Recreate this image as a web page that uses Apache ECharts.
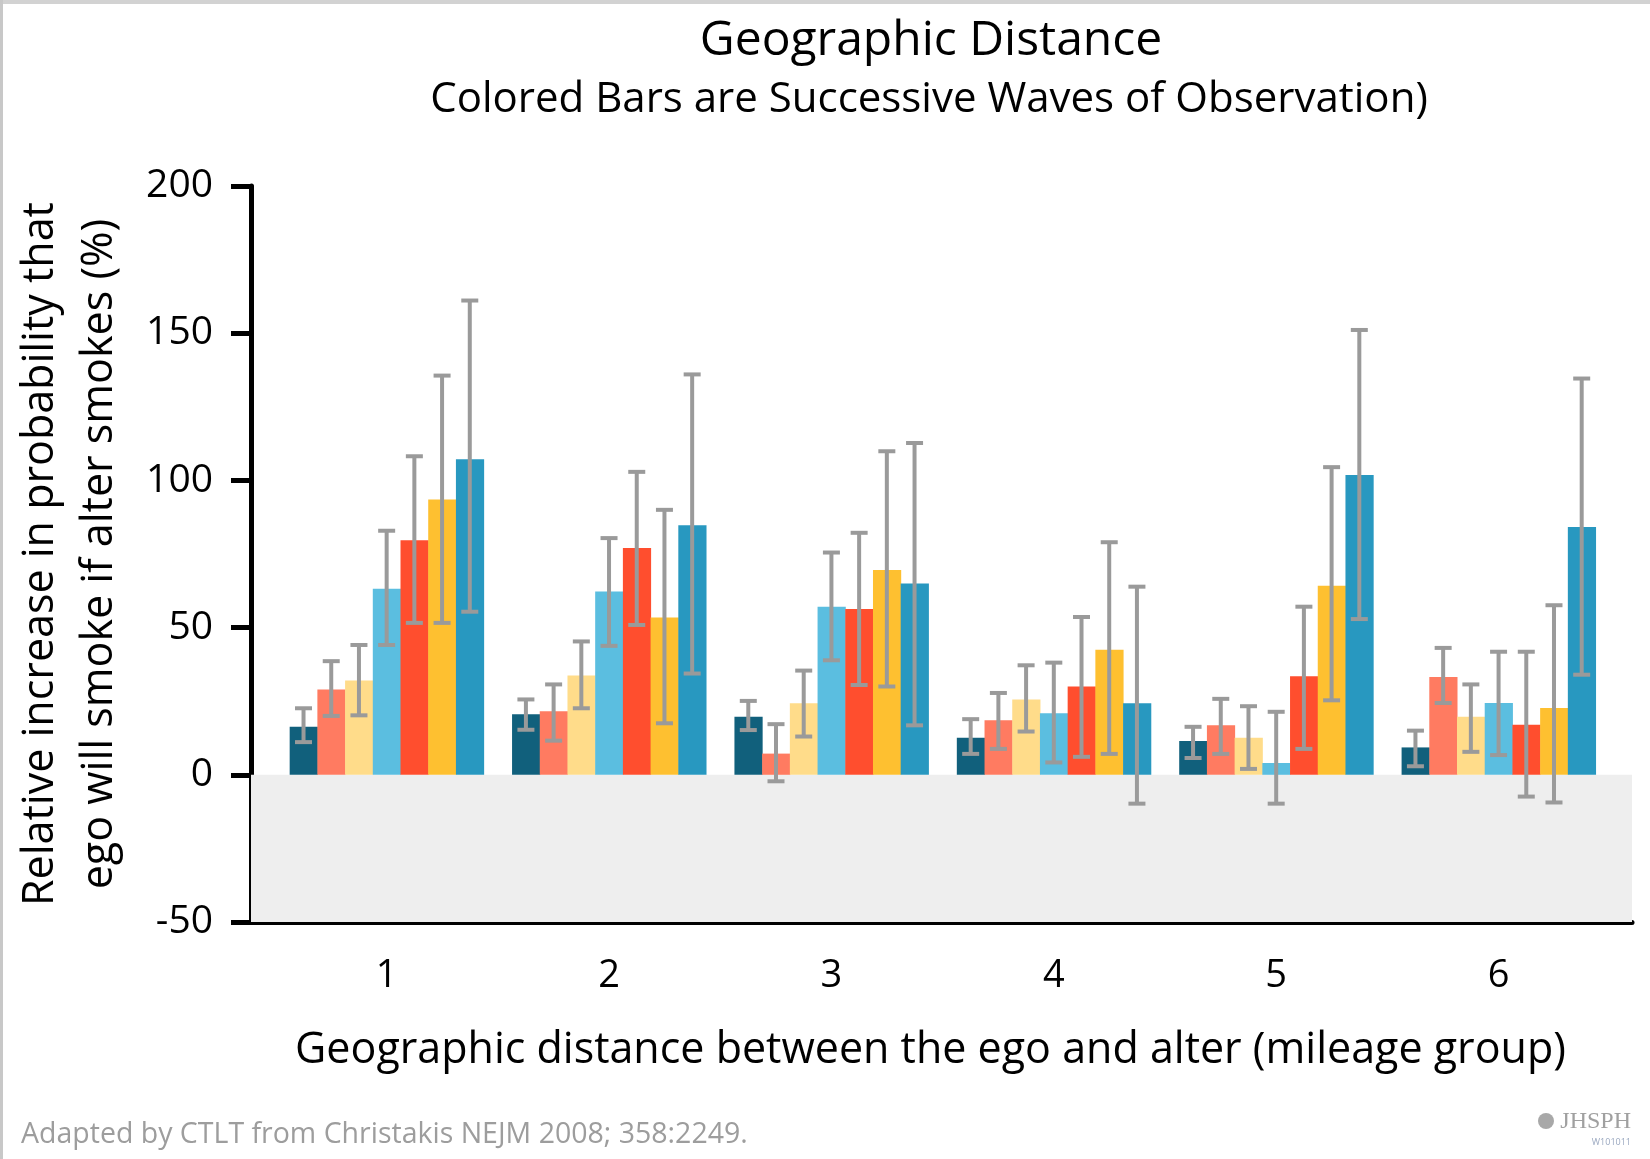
<!DOCTYPE html>
<html>
<head>
<meta charset="utf-8">
<script src="https://cdn.jsdelivr.net/npm/echarts@6/dist/echarts.min.js"></script>
<style>
  html, body { margin: 0; padding: 0; background: #fff; }
  #wrap { position: relative; width: 1650px; height: 1159px; }
  #chart { position: absolute; left: 0; top: 0; width: 1650px; height: 1159px; }
  .edgeTop { position: absolute; left: 0; top: 0; width: 1650px; height: 4px; background: #d2d2d2; }
  .edgeLeft { position: absolute; left: 0; top: 0; width: 3px; height: 1159px; background: #c8c8c8; }
</style>
</head>
<body>
<div id="wrap">
  <div id="chart"></div>
  <div class="edgeTop"></div>
  <div class="edgeLeft"></div>
</div>
<script>
// ---- data ----
const categories = [1, 2, 3, 4, 5, 6];
const yTicks = [-50, 0, 50, 100, 150, 200];
const waveColors = ['#11607c', '#ff7b61', '#ffdc8a', '#5bbee0', '#ff4e2e', '#fec030', '#2898c0'];

const wave1 = [16.3, 20.6, 19.7, 12.6, 11.5, 9.3];
const wave1Low = [11.1, 15.3, 15.2, 7.1, 5.7, 2.9];
const wave1High = [22.6, 25.6, 25.1, 18.9, 16.3, 15.0];

const wave2 = [29.0, 21.6, 7.2, 18.5, 16.8, 33.2];
const wave2Low = [20.0, 11.6, -2.2, 8.8, 7.1, 24.4];
const wave2High = [38.6, 30.7, 17.2, 27.8, 25.8, 43.1];

const wave3 = [32.0, 33.7, 24.3, 25.6, 12.6, 19.7];
const wave3Low = [20.2, 22.6, 13.0, 14.7, 2.0, 7.8];
const wave3High = [44.1, 45.3, 35.4, 37.2, 23.3, 30.7];

const wave4 = [63.2, 62.3, 57.1, 20.9, 4.0, 24.4];
const wave4Low = [44.1, 43.8, 38.9, 4.2, -9.8, 6.7];
const wave4High = [82.9, 80.4, 75.5, 38.1, 21.4, 41.8];

const wave5 = [79.7, 77.0, 56.3, 30.0, 33.5, 17.0];
const wave5Low = [51.6, 50.9, 30.5, 6.1, 8.8, -7.4];
const wave5High = [108.2, 102.9, 82.2, 53.6, 57.1, 41.8];

const wave6 = [93.5, 53.4, 69.6, 42.5, 64.2, 22.7];
const wave6Low = [51.6, 17.5, 30.0, 7.1, 25.3, -9.4];
const wave6High = [135.6, 90.0, 109.9, 79.0, 104.5, 57.6];

const wave7 = [107.2, 84.8, 65.0, 24.3, 101.8, 84.2];
const wave7Low = [55.4, 34.4, 16.8, -9.8, 52.9, 34.0];
const wave7High = [161.1, 136.0, 112.7, 63.9, 151.1, 134.6];

const waves = [
  [wave1, wave1Low, wave1High],
  [wave2, wave2Low, wave2High],
  [wave3, wave3Low, wave3High],
  [wave4, wave4Low, wave4High],
  [wave5, wave5Low, wave5High],
  [wave6, wave6Low, wave6High],
  [wave7, wave7Low, wave7High]
];

const FONT = '"Open Sans", "Noto Sans", sans-serif';
const BAR_FRAC = 0.1246; // bar width as fraction of category step
const NW = waves.length;

function barRender(k) {
  return function (params, api) {
    const x = api.value(0), v = api.value(1);
    const base = api.coord([x, 0]);
    const top = api.coord([x, v]);
    const step = api.size([1, 0])[0];
    const bw = step * BAR_FRAC;
    const left = base[0] + (k - NW / 2) * bw;
    return {
      type: 'rect',
      shape: { x: left, y: Math.min(top[1], base[1]), width: bw + 0.5, height: Math.abs(base[1] - top[1]) },
      style: { fill: waveColors[k] }
    };
  };
}

function errRender(k) {
  return function (params, api) {
    const x = api.value(0);
    const base = api.coord([x, 0]);
    const lo = api.coord([x, api.value(2)]);
    const hi = api.coord([x, api.value(3)]);
    const step = api.size([1, 0])[0];
    const bw = step * BAR_FRAC;
    const cx = base[0] + (k - NW / 2 + 0.5) * bw;
    const cap = 8.5;
    const st = { stroke: '#9a9a9a', lineWidth: 4, fill: null };
    return {
      type: 'group',
      children: [
        { type: 'line', shape: { x1: cx, y1: lo[1], x2: cx, y2: hi[1] }, style: st },
        { type: 'line', shape: { x1: cx - cap, y1: hi[1], x2: cx + cap, y2: hi[1] }, style: st },
        { type: 'line', shape: { x1: cx - cap, y1: lo[1], x2: cx + cap, y2: lo[1] }, style: st }
      ]
    };
  };
}

const series = [{
  type: 'line',
  data: [],
  silent: true,
  markArea: {
    silent: true,
    itemStyle: { color: '#eeeeee' },
    data: [[{ yAxis: -50 }, { yAxis: 0 }]]
  }
}];

waves.forEach(function (w, k) {
  const data = categories.map(function (c, i) { return [c, w[0][i], w[1][i], w[2][i]]; });
  series.push({
    type: 'custom', name: 'Wave ' + (k + 1), renderItem: barRender(k),
    data: data, encode: { x: 0, y: 1 }, z: 2, silent: true
  });
});
waves.forEach(function (w, k) {
  const data = categories.map(function (c, i) { return [c, w[0][i], w[1][i], w[2][i]]; });
  series.push({
    type: 'custom', name: 'Wave ' + (k + 1) + ' CI', renderItem: errRender(k),
    data: data, encode: { x: 0, y: [2, 3] }, z: 4, silent: true
  });
});

const chart = echarts.init(document.getElementById('chart'), null, { renderer: 'canvas' });
chart.setOption({
  animation: false,
  backgroundColor: '#ffffff',
  textStyle: { fontFamily: FONT },
  grid: { left: 251, right: 18, top: 186, bottom: 237, containLabel: false },
  xAxis: {
    type: 'value', min: 0.39, max: 6.6,
    name: 'Geographic distance between the ego and alter (mileage group)',
    nameLocation: 'middle', nameGap: 107,
    nameTextStyle: { fontSize: 43, color: '#000', fontFamily: FONT, padding: [0, 22, 0, 0] },
    splitLine: { show: false },
    axisTick: { show: false },
    axisLine: { onZero: false, lineStyle: { color: '#000', width: 5 } },
    axisLabel: { customValues: categories, fontSize: 38, color: '#000', margin: 35, fontFamily: FONT,
      formatter: function (v) { return String(v); } }
  },
  yAxis: {
    type: 'value', min: yTicks[0], max: yTicks[yTicks.length - 1], interval: 50,
    name: 'Relative increase in probability that\nego will smoke if alter smokes (%)',
    nameLocation: 'middle', nameRotate: 90, nameGap: 122,
    nameTextStyle: { fontSize: 43, lineHeight: 59, color: '#000', fontFamily: FONT, align: 'center' },
    splitLine: { show: false },
    axisLine: { onZero: false, lineStyle: { color: '#000', width: 5 } },
    axisTick: { inside: false, length: 20, lineStyle: { color: '#000', width: 5 } },
    axisLabel: { fontSize: 39, color: '#000', margin: 38, fontFamily: FONT }
  },
  graphic: [
    { type: 'text', x: 931, y: 41, style: { text: 'Geographic Distance', font: '48px ' + FONT, fill: '#000', align: 'center', verticalAlign: 'middle' } },
    { type: 'text', x: 929, y: 100, style: { text: 'Colored Bars are Successive Waves of Observation)', font: '42px ' + FONT, fill: '#000', align: 'center', verticalAlign: 'middle' } },
    { type: 'text', x: 21, y: 1135, style: { text: 'Adapted by CTLT from Christakis NEJM 2008; 358:2249.', font: '28.5px ' + FONT, fill: '#9d9d9d', align: 'left', verticalAlign: 'middle' } },
    { type: 'circle', shape: { cx: 1546, cy: 1121, r: 8 }, style: { fill: '#a8a8a8' } },
    { type: 'text', x: 1631, y: 1122, style: { text: 'JHSPH', font: '24px "Liberation Serif", serif', fill: '#a0a0a0', align: 'right', verticalAlign: 'middle' } },
    { type: 'text', x: 1631, y: 1142, style: { text: 'W101011', font: '9px ' + FONT, fill: '#9aa8c0', align: 'right', verticalAlign: 'middle' } }
  ],
  series: series
});
</script>
</body>
</html>
